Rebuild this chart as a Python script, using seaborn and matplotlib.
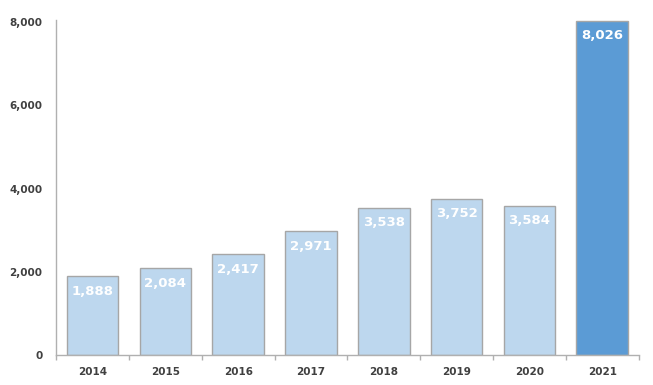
import matplotlib
matplotlib.use("Agg")
import matplotlib.pyplot as plt
import seaborn as sns
import pandas as pd

years = ["2014", "2015", "2016", "2017", "2018", "2019", "2020", "2021"]
values = [1888, 2084, 2417, 2971, 3538, 3752, 3584, 8026]
highlight = ["base"] * 7 + ["top"]

df = pd.DataFrame({"year": years, "value": values, "kind": highlight})

sns.set_theme(style="white")
plt.rcParams["font.family"] = ["DejaVu Sans"]

fig = plt.figure(figsize=(6.53, 3.85), dpi=100)
ax = fig.add_axes([0.086, 0.078, 0.892, 0.870])

sns.barplot(data=df, x="year", y="value", hue="kind",
            palette={"base": "#BDD7EE", "top": "#5B9BD5"}, saturation=1,
            dodge=False, width=0.71, edgecolor="#A6A6A6", linewidth=1.0,
            legend=False, ax=ax)

ax.set_xlim(-0.5, 7.5)
ax.set_ylim(0, 8050)
ax.set_yticks([0, 2000, 4000, 6000, 8000])
ax.set_yticklabels([f"{v:,}" for v in [0, 2000, 4000, 6000, 8000]])
ax.set_xlabel("")
ax.set_ylabel("")

for sp in ["top", "right"]:
    ax.spines[sp].set_visible(False)
for sp in ["left", "bottom"]:
    ax.spines[sp].set_color("#B0B0B0")
    ax.spines[sp].set_linewidth(1.0)

ax.tick_params(axis="y", length=0, pad=10, labelsize=7.5, labelcolor="#404040")
ax.tick_params(axis="x", which="major", length=0, pad=9, labelsize=7.5,
               labelcolor="#404040")
for lbl in ax.get_xticklabels() + ax.get_yticklabels():
    lbl.set_fontweight("bold")

# boundary tick marks on x axis
ax.set_xticks([i - 0.5 for i in range(9)], minor=True)
ax.tick_params(axis="x", which="minor", bottom=True, direction="out",
               length=3.5, color="#B0B0B0", width=1)

for i, v in enumerate(values):
    ax.text(i, v - 200, f"{v:,}", ha="center", va="top", color="white",
            fontsize=9.5, fontweight="bold" if i == 7 else "semibold")

fig.savefig("out.png", dpi=100)
